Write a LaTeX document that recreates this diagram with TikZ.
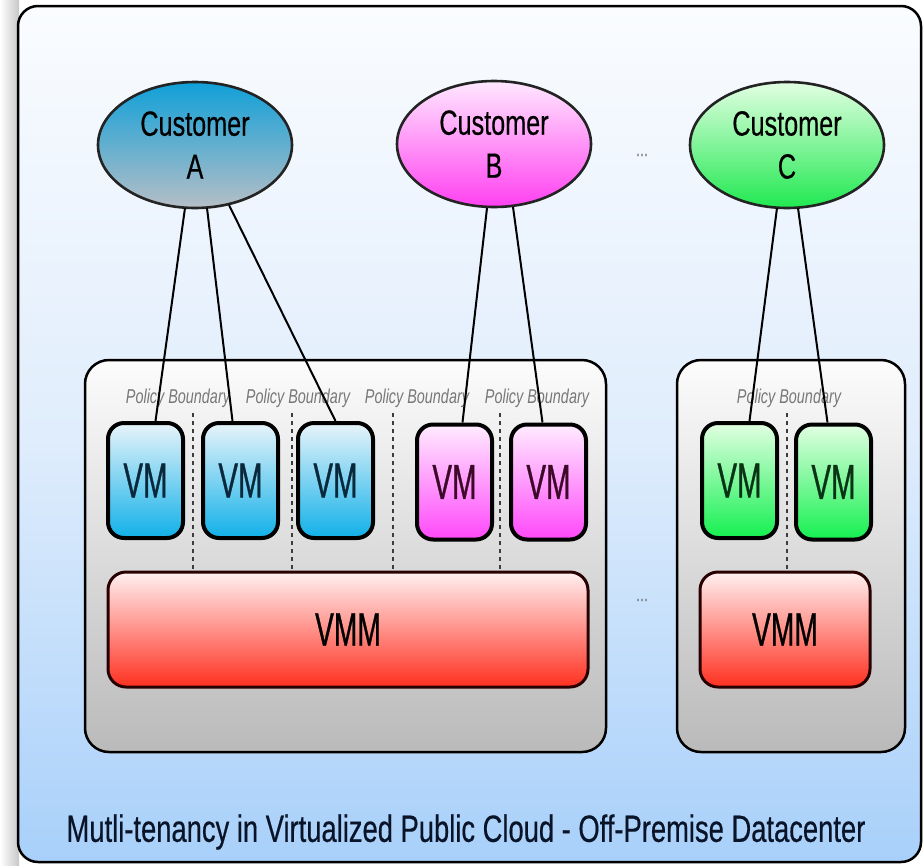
\documentclass[tikz,border=0pt]{standalone}
\usepackage{fontspec}
\setmainfont{Liberation Sans}
\newfontfamily\condA[FakeStretch=0.72]{Liberation Sans}
\newfontfamily\condB[FakeStretch=0.6,FakeBold=0.6]{Liberation Sans}
\newfontfamily\condC[FakeStretch=0.72,FakeBold=0.4]{Liberation Sans}
\usetikzlibrary{shapes.geometric,calc,shadings}
\definecolor{frametop}{RGB}{250,252,255}
\definecolor{framemid}{RGB}{224,237,252}
\definecolor{framebot}{RGB}{168,208,250}
\definecolor{boxtop}{RGB}{252,252,252}
\definecolor{boxbot}{RGB}{186,186,186}
\definecolor{custAtop}{RGB}{16,160,216}
\definecolor{custAbot}{RGB}{182,190,198}
\definecolor{custBtop}{RGB}{255,232,255}
\definecolor{custBbot}{RGB}{255,64,240}
\definecolor{custCtop}{RGB}{226,255,226}
\definecolor{custCbot}{RGB}{32,232,80}
\definecolor{vmAtop}{RGB}{232,244,250}
\definecolor{vmAbot}{RGB}{16,176,232}
\definecolor{vmBtop}{RGB}{255,236,255}
\definecolor{vmBbot}{RGB}{255,72,250}
\definecolor{vmCtop}{RGB}{226,255,226}
\definecolor{vmCbot}{RGB}{20,240,80}
\definecolor{vmmtop}{RGB}{255,240,240}
\definecolor{vmmbot}{RGB}{255,48,32}
\definecolor{labelgray}{RGB}{120,120,120}
\tikzset{
  hostbox/.style={draw=black, line width=2.5pt, rounded corners=24pt,
    top color=boxtop, bottom color=boxbot, minimum height=392pt, inner sep=0pt},
  custnode/.style={ellipse, draw={rgb,255:red,35;green,35;blue,35}, line width=2.6pt,
    minimum width=194pt, minimum height=126pt, inner sep=0pt, align=center,
    font=\condC\fontsize{35}{43}\selectfont},
  vmbox/.style={draw=black, line width=4pt, rounded corners=16pt,
    minimum width=75pt, minimum height=115pt, inner sep=0pt,
    font=\condB\fontsize{49}{49}\selectfont},
  vmmbox/.style={draw={rgb,255:red,40;green,0;blue,0}, line width=3pt, rounded corners=18pt,
    minimum height=115pt, inner sep=0pt, top color=vmmtop, bottom color=vmmbot,
    font=\condB\fontsize{47}{47}\selectfont},
  plabel/.style={text=labelgray, inner sep=0pt,
    font=\condA\itshape\fontsize{20}{20}\selectfont},
  conn/.style={draw=black, line width=2pt},
  boundary/.style={draw={rgb,255:red,60;green,60;blue,60}, line width=1.6pt,
    dash pattern=on 4pt off 4pt},
  ellip/.style={text=labelgray, inner sep=0pt, font=\condC\fontsize{20}{20}\selectfont}
}
\begin{document}
\begin{tikzpicture}[x=1pt,y=-1pt]
\useasboundingbox (0,0) rectangle (923,865);
\fill[white] (0,0) rectangle (923,865);
\shade[left color=white, right color=black!22] (0,0) rectangle (19,865);
% outer frame
\draw[line width=2.5pt, rounded corners=20pt, top color=frametop, bottom color=framebot,
  middle color=framemid] (18,6) rectangle (921,862);
% host boxes
\node[hostbox, minimum width=521pt] (boxL) at (345.5,556) {};
\node[hostbox, minimum width=228pt] (boxR) at (791,556) {};
% VMM
\node[vmmbox, minimum width=480pt] (vmmL) at (348,629.5) {VMM};
\node[vmmbox, minimum width=170pt] (vmmR) at (785,629.5) {VMM};
% policy boundaries
\coordinate (b1) at (193,413);
\coordinate (b2) at (292,413);
\coordinate (b3) at (393,413);
\coordinate (b4) at (500,413);
\coordinate (b5) at (787,413);
\draw[boundary] (b1) -- (b1 |- vmmL.north);
\draw[boundary] (b2) -- (b2 |- vmmL.north);
\draw[boundary] (b3) -- (b3 |- vmmL.north);
\draw[boundary] (b4) -- (b4 |- vmmL.north);
\draw[boundary] (b5) -- (b5 |- vmmR.north);
\node[plabel] (pl1) at (178,398) {Policy Boundary};
\node[plabel] (pl2) at (298,398) {Policy Boundary};
\node[plabel] (pl3) at (417,398) {Policy Boundary};
\node[plabel] (pl4) at (537,398) {Policy Boundary};
\node[plabel] (pl5) at (789,398) {Policy Boundary};
% VMs
\node[vmbox, top color=vmAtop, bottom color=vmAbot, text={rgb,255:red,10;green,40;blue,60}] (vm1) at (145.5,480.5) {VM};
\node[vmbox, top color=vmAtop, bottom color=vmAbot, text={rgb,255:red,10;green,40;blue,60}] (vm2) at (240.5,480.5) {VM};
\node[vmbox, top color=vmAtop, bottom color=vmAbot, text={rgb,255:red,10;green,40;blue,60}] (vm3) at (335.5,480.5) {VM};
\node[vmbox, top color=vmBtop, bottom color=vmBbot, text={rgb,255:red,60;green,10;blue,40}] (vm4) at (454.5,482) {VM};
\node[vmbox, top color=vmBtop, bottom color=vmBbot, text={rgb,255:red,60;green,10;blue,40}] (vm5) at (548.5,482) {VM};
\node[vmbox, top color=vmCtop, bottom color=vmCbot, text={rgb,255:red,10;green,50;blue,20}] (vm6) at (739.5,480.5) {VM};
\node[vmbox, top color=vmCtop, bottom color=vmCbot, text={rgb,255:red,10;green,50;blue,20}] (vm7) at (833.5,482) {VM};
% customers
\node[custnode, top color=custAtop, bottom color=custAbot] (custA) at (195,145) {Customer\\A};
\node[custnode, top color=custBtop, bottom color=custBbot] (custB) at (494,144) {Customer\\B};
\node[custnode, top color=custCtop, bottom color=custCbot] (custC) at (787,145) {Customer\\C};
\node[ellip] (dots1) at (642,155) {...};
\node[ellip] (dots2) at (642,600) {...};
% connectors
\draw[conn] ($(custA.center)+(-10,63)$) -- ($(vm1.north)+(10,0)$);
\draw[conn] ($(custA.center)+(12,63)$) -- ($(vm2.north)+(-8,0)$);
\draw[conn] ($(custA.center)+(34,60)$) -- ($(vm3.north)+(0,0)$);
\draw[conn] ($(custB.center)+(-7,64)$) -- ($(vm4.north)+(8,0)$);
\draw[conn] ($(custB.center)+(19,63)$) -- ($(vm5.north)+(-6,0)$);
\draw[conn] ($(custC.center)+(-10,63)$) -- ($(vm6.north)+(10,0)$);
\draw[conn] ($(custC.center)+(11,63)$) -- ($(vm7.north)+(-6,0)$);
% caption
\node[inner sep=0pt, font=\condC\fontsize{38}{38}\selectfont, text={rgb,255:red,10;green,20;blue,40}] (caption) at (466,832)
  {Mutli-tenancy in Virtualized Public Cloud - Off-Premise Datacenter};
\end{tikzpicture}
\end{document}
